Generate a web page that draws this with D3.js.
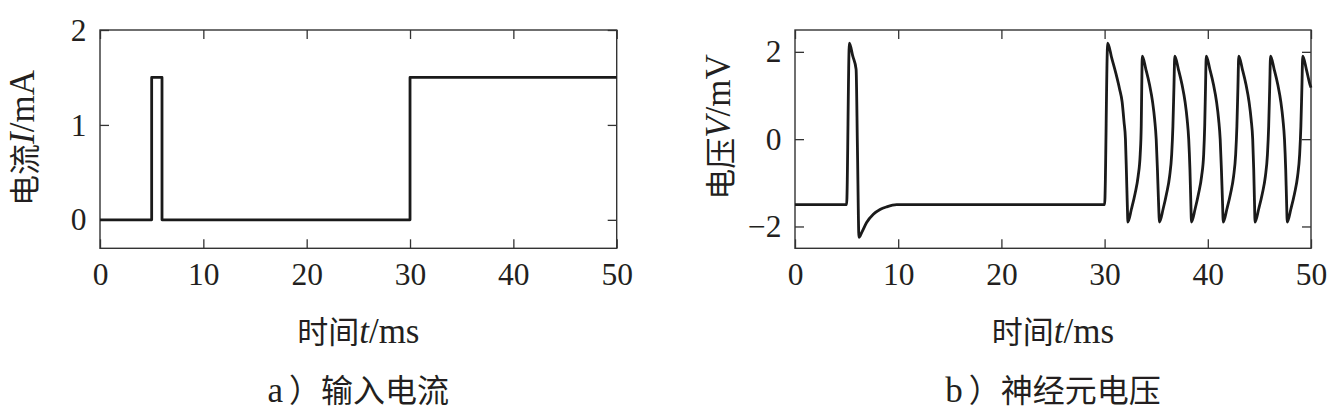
<!DOCTYPE html>
<html><head><meta charset="utf-8">
<script src="https://cdn.jsdelivr.net/npm/d3@7"></script>
<style>
body{margin:0;background:#fff;}
svg{display:block;}
text{fill:#231f20;}
</style></head>
<body><svg id="c" width="1337" height="415"></svg>
<script>
// ---- data ----
const currentT = [0, 5, 5, 6, 6, 30, 30, 50];
const currentI = [0, 0, 1.5, 1.5, 0, 0, 1.5, 1.5];

const voltT = [0, 5.0, 5.27, 5.6, 5.92, 6.05, 6.2, 6.46, 6.94, 7.59, 8.24, 8.88, 9.85, 12, 30.0,
  30.3, 30.7, 31.1, 31.45, 31.7, 31.88, 32.02, 32.12, 32.2, 32.26,
  32.6, 32.95, 33.25, 33.45, 33.55, 33.6, 33.65,
  34.0, 34.35, 34.65, 34.85, 35.0, 35.12, 35.22, 35.32,
  35.67, 36.0, 36.3, 36.5, 36.62, 36.72, 36.8,
  37.15, 37.5, 37.8, 38.0, 38.15, 38.27, 38.35, 38.42,
  38.77, 39.1, 39.4, 39.6, 39.7, 39.78, 39.85,
  40.2, 40.55, 40.85, 41.05, 41.2, 41.32, 41.42, 41.5,
  41.85, 42.2, 42.5, 42.7, 42.82, 42.92, 43.0,
  43.35, 43.7, 44.0, 44.2, 44.35, 44.45, 44.52, 44.58,
  44.93, 45.28, 45.58, 45.78, 45.9, 46.0, 46.08,
  46.43, 46.78, 47.08, 47.28, 47.43, 47.55, 47.63, 47.7,
  48.05, 48.4, 48.7, 48.9, 49.02, 49.12, 49.2,
  49.55, 49.9, 50.0];
const voltV = [-1.5, -1.5, 2.2, 1.9, 1.6, -0.2, -2.25, -2.14, -1.91, -1.72, -1.61, -1.55, -1.5, -1.5, -1.5,
  2.2, 1.85, 1.5, 1.15, 0.85, 0.4, 0.0, -0.8, -1.5, -1.9,
  -1.6, -1.25, -0.85, -0.35, 0.3, 1.2, 1.9,
  1.6, 1.25, 0.85, 0.45, 0.0, -0.7, -1.4, -1.9,
  -1.6, -1.25, -0.85, -0.35, 0.3, 1.2, 1.9,
  1.6, 1.25, 0.85, 0.45, 0.0, -0.7, -1.4, -1.9,
  -1.6, -1.25, -0.85, -0.35, 0.3, 1.2, 1.9,
  1.6, 1.25, 0.85, 0.45, 0.0, -0.7, -1.4, -1.9,
  -1.6, -1.25, -0.85, -0.35, 0.3, 1.2, 1.9,
  1.6, 1.25, 0.85, 0.45, 0.0, -0.7, -1.4, -1.9,
  -1.6, -1.25, -0.85, -0.35, 0.3, 1.2, 1.9,
  1.6, 1.25, 0.85, 0.45, 0.0, -0.7, -1.4, -1.9,
  -1.6, -1.25, -0.85, -0.35, 0.3, 1.2, 1.9,
  1.6, 1.25, 1.18];

const xTicks = [0, 10, 20, 30, 40, 50];
const yTicksA = [0, 1, 2];
const yTicksB = [-2, 0, 2];
const xTitle = ["时间", "t", "/ms"];
const yTitleA = ["电流", "I", "/mA"];
const yTitleB = ["电压", "V", "/mV"];
const captionA = ["a", "）输入电流"];
const captionB = ["b", "）神经元电压"];

// ---- drawing ----
const svg = d3.select("#c");
const SERIF = "'Liberation Serif','Times New Roman',serif";
const CJK = "'Noto Sans CJK SC',sans-serif";

function panel(cfg) {
  const {x0, x1, y0, y1, ydom, yticks, T, V, curve, ytitle, ytitleX, ytitleY, caption} = cfg;
  const x = d3.scaleLinear().domain([0, 50]).range([x0, x1]);
  const y = d3.scaleLinear().domain(ydom).range([y1, y0]);
  const g = svg.append("g");
  const tick = 9;

  const styleAxis = sel => {
    sel.select(".domain").remove();
    sel.selectAll(".tick line").attr("stroke", "#333").attr("stroke-width", 1.3);
    sel.selectAll(".tick text").attr("font-family", SERIF).attr("font-size", 31.5).attr("fill", "#231f20");
  };
  g.append("g").attr("transform", `translate(0,${y1})`)
    .call(d3.axisBottom(x).tickValues(xTicks).tickSizeInner(-tick).tickSizeOuter(0).tickPadding(14.5).tickFormat(d3.format("d")))
    .call(styleAxis);
  g.append("g").attr("transform", `translate(0,${y0})`)
    .call(d3.axisTop(x).tickValues(xTicks).tickSizeInner(-tick).tickSizeOuter(0).tickFormat(""))
    .call(styleAxis);
  g.append("g").attr("transform", `translate(${x0},0)`)
    .call(d3.axisLeft(y).tickValues(yticks).tickSizeInner(-tick).tickSizeOuter(0).tickPadding(13.5).tickFormat(d3.format("d")))
    .call(styleAxis);
  g.append("g").attr("transform", `translate(${x1},0)`)
    .call(d3.axisRight(y).tickValues(yticks).tickSizeInner(-tick).tickSizeOuter(0).tickFormat(""))
    .call(styleAxis);

  g.append("rect").attr("x", x0).attr("y", y0).attr("width", x1 - x0).attr("height", y1 - y0)
    .attr("fill", "none").attr("stroke", "#333").attr("stroke-width", 1.4);

  const pts = T.map((t, i) => [t, V[i]]);
  g.append("path").datum(pts)
    .attr("d", d3.line().x(d => x(d[0])).y(d => y(d[1])).curve(curve))
    .attr("fill", "none").attr("stroke", "#1a1a1a").attr("stroke-width", 2.8)
    .attr("stroke-linejoin", "round");

  // y title
  const yt = g.append("text").attr("transform", `translate(${ytitleX},${ytitleY}) rotate(-90)`)
    .attr("text-anchor", "middle").attr("dominant-baseline", "central");
  yt.append("tspan").attr("font-family", CJK).attr("font-size", 31).text(ytitle[0]);
  yt.append("tspan").attr("font-family", SERIF).attr("font-style", "italic").attr("font-size", 35).text(ytitle[1]);
  yt.append("tspan").attr("font-family", SERIF).attr("font-size", 35).text(ytitle[2]);

  // x title
  const cx = (x0 + x1) / 2;
  const xt = g.append("text").attr("x", cx).attr("y", 343).attr("text-anchor", "middle");
  xt.append("tspan").attr("font-family", CJK).attr("font-size", 31).text(xTitle[0]);
  xt.append("tspan").attr("font-family", SERIF).attr("font-style", "italic").attr("font-size", 35).text(xTitle[1]);
  xt.append("tspan").attr("font-family", SERIF).attr("font-size", 35).text(xTitle[2]);

  // caption
  const ct = g.append("text").attr("x", cx).attr("y", 402).attr("text-anchor", "middle");
  ct.append("tspan").attr("font-family", SERIF).attr("font-size", 35).text(caption[0]);
  ct.append("tspan").attr("font-family", CJK).attr("font-size", 32).attr("dx", 6).text(caption[1]);
}

panel({x0: 100, x1: 616.7, y0: 30, y1: 248.3, ydom: [-0.3, 2], yticks: yTicksA,
  T: currentT, V: currentI, curve: d3.curveLinear,
  ytitle: yTitleA, ytitleX: 22, ytitleY: 138, caption: captionA});
panel({x0: 795, x1: 1311, y0: 30, y1: 248.3, ydom: [-2.5, 2.5], yticks: yTicksB,
  T: voltT, V: voltV, curve: d3.curveMonotoneX,
  ytitle: yTitleB, ytitleX: 718, ytitleY: 127, caption: captionB});
</script></body></html>
